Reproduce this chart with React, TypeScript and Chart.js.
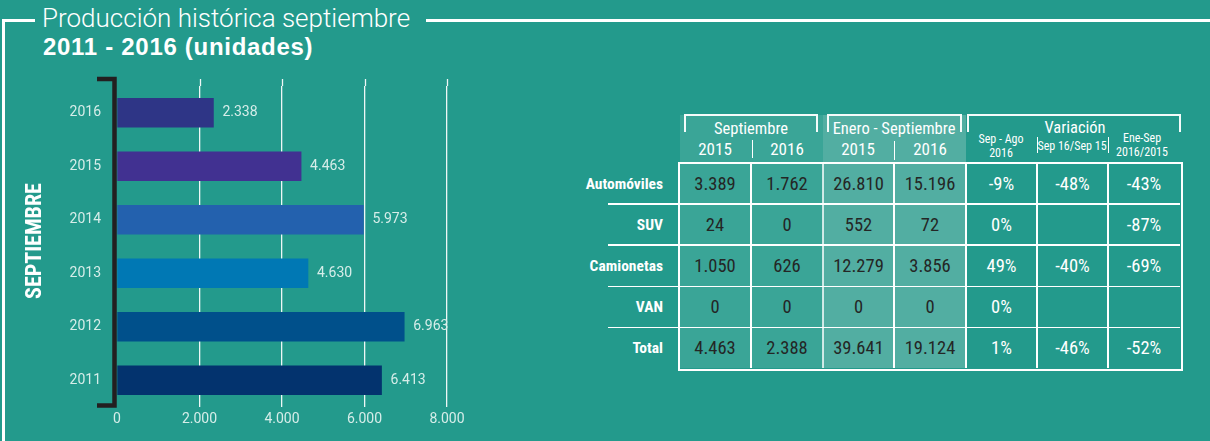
import React, { useEffect, useRef } from "react";
import { Chart, registerables } from "chart.js";

Chart.register(...registerables);

// ---------- data ----------
const years = ["2016", "2015", "2014", "2013", "2012", "2011"];
const production = [2338, 4463, 5973, 4630, 6963, 6413];
const barColors = ["#2e3586", "#413191", "#2361ae", "#0078b4", "#00508b", "#03336e"];
const xMax = 8000;
const xStep = 2000;

const rowLabels = ["Automóviles", "SUV", "Camionetas", "VAN", "Total"];
const sep2015 = ["3.389", "24", "1.050", "0", "4.463"];
const sep2016 = ["1.762", "0", "626", "0", "2.388"];
const ene2015 = ["26.810", "552", "12.279", "0", "39.641"];
const ene2016 = ["15.196", "72", "3.856", "0", "19.124"];
const varSepAgo = ["-9%", "0%", "49%", "0%", "1%"];
const varSep = ["-48%", "", "-40%", "", "-46%"];
const varEne = ["-43%", "-87%", "-69%", "", "-52%"];

// ---------- style ----------
const BG = "#239a8c";
const NARROW = '"Liberation Sans Narrow", "Roboto Condensed", "Arial Narrow", "Roboto", sans-serif';
const SANS = '"Roboto", "Liberation Sans", sans-serif';
const LIGHT_TXT = "#d6ede9";

const fmt = (n: number) => String(n).replace(/\B(?=(\d{3})+(?!\d))/g, ".");

const colX = [679, 751, 823, 894, 966, 1037, 1108, 1180];
const rowY = [163, 204, 245, 286.5, 327.5, 368];

function BarChart() {
  const ref = useRef<HTMLCanvasElement | null>(null);
  useEffect(() => {
    if (!ref.current) return;
    const extras = {
      id: "extras",
      beforeDatasetsDraw(chart: any) {
        const { ctx, chartArea } = chart;
        const xs = chart.scales.x;
        ctx.save();
        ctx.strokeStyle = "rgba(255,255,255,0.92)";
        ctx.lineWidth = 1.3;
        xs.ticks.forEach((t: any) => {
          if (t.value === 0) return;
          const px = Math.round(xs.getPixelForValue(t.value)) + 0.5;
          ctx.beginPath();
          ctx.moveTo(px, chartArea.top - 7);
          ctx.lineTo(px, chartArea.top);
          ctx.stroke();
        });
        ctx.restore();
      },
      afterDatasetsDraw(chart: any) {
        const { ctx, chartArea } = chart;
        const meta = chart.getDatasetMeta(0);
        ctx.save();
        ctx.fillStyle = LIGHT_TXT;
        ctx.font = `14px ${SANS}`;
        ctx.textBaseline = "middle";
        ctx.textAlign = "left";
        meta.data.forEach((bar: any, i: number) => {
          ctx.fillText(fmt(production[i]), bar.x + 9, bar.y);
        });
        // bracket axis
        const x = chartArea.left - 2.5;
        ctx.strokeStyle = "#231f20";
        ctx.lineWidth = 4.5;
        ctx.lineJoin = "miter";
        ctx.beginPath();
        ctx.moveTo(x - 17.5, chartArea.top - 7);
        ctx.lineTo(x, chartArea.top - 7);
        ctx.lineTo(x, chartArea.bottom - 1.5);
        ctx.lineTo(x - 17.5, chartArea.bottom - 1.5);
        ctx.stroke();
        ctx.restore();
      },
    };
    const chart = new Chart(ref.current, {
      type: "bar",
      data: {
        labels: years,
        datasets: [
          {
            data: production,
            backgroundColor: barColors,
            borderWidth: 0,
            barThickness: 29,
          },
        ],
      },
      options: {
        indexAxis: "y",
        responsive: false,
        animation: false,
        layout: { padding: { left: 0, top: 86, right: 33, bottom: 0 } },
        plugins: { legend: { display: false }, tooltip: { enabled: false } },
        scales: {
          x: {
            type: "linear",
            min: 0,
            max: xMax,
            ticks: {
              stepSize: xStep,
              color: LIGHT_TXT,
              font: { family: SANS, size: 14 },
              padding: 4,
              callback: (v: any) => fmt(Number(v)),
            },
            grid: {
              color: (c: any) => (c.tick && c.tick.value === 0 ? "rgba(0,0,0,0)" : "rgba(255,255,255,0.92)"),
              lineWidth: 1.3,
              drawTicks: false,
            },
            border: { display: false },
            afterFit: (s: any) => {
              s.height = 34;
            },
          },
          y: {
            ticks: {
              color: LIGHT_TXT,
              font: { family: SANS, size: 14 },
              padding: 16,
            },
            grid: { display: false, drawTicks: false },
            border: { display: false },
            afterFit: (s: any) => {
              s.width = 117;
            },
          },
        },
      },
      plugins: [extras],
    } as any);
    return () => chart.destroy();
  }, []);
  return (
    <canvas
      ref={ref}
      width={480}
      height={441}
      style={{ position: "absolute", left: 0, top: 0, width: 480, height: 441 }}
    />
  );
}

const abs = (s: React.CSSProperties): React.CSSProperties => ({ position: "absolute", ...s });

function Table() {
  const els: React.ReactNode[] = [];
  const cols = [sep2015, sep2016, ene2015, ene2016, varSepAgo, varSep, varEne];
  const cellBg = ["#3aa597", "#3aa597", "#52aea2", "#52aea2", "transparent", "transparent", "transparent"];
  // header backgrounds
  els.push(<div key="hb1" style={abs({ left: 680, top: 115, width: 143, height: 48, background: "#3aa597" })} />);
  els.push(<div key="hb2" style={abs({ left: 823, top: 115, width: 143, height: 48, background: "#52aea2" })} />);
  // cells
  cols.forEach((col, c) => {
    col.forEach((v, r) => {
      els.push(
        <div
          key={`c${c}-${r}`}
          style={abs({
            left: colX[c],
            top: rowY[r],
            width: colX[c + 1] - colX[c],
            height: rowY[r + 1] - rowY[r],
            background: cellBg[c],
            display: "flex",
            alignItems: "center",
            justifyContent: "center",
            color: c < 4 ? "#242625" : "#ffffff",
            fontFamily: NARROW,
            fontSize: 18.5,
          })}
        >
          {v}
        </div>
      );
    });
  });
  // row labels
  rowLabels.forEach((l, r) => {
    els.push(
      <div
        key={`rl${r}`}
        style={abs({
          left: 560,
          width: 103,
          top: rowY[r],
          height: rowY[r + 1] - rowY[r],
          display: "flex",
          alignItems: "center",
          justifyContent: "flex-end",
          color: "#fff",
          fontFamily: NARROW,
          fontWeight: 700,
          fontSize: 15.5,
        })}
      >
        {l}
      </div>
    );
  });
  // horizontal lines
  for (let r = 1; r < rowY.length - 1; r++) {
    els.push(<div key={`hl${r}`} style={abs({ left: 608, top: rowY[r] - 0.75, width: 1180 - 608, height: 1.5, background: "#fff" })} />);
  }
  // vertical lines
  for (let c = 1; c < colX.length - 1; c++) {
    els.push(
      <div
        key={`vl${c}`}
        style={abs({
          left: colX[c] - 0.75,
          top: rowY[0],
          width: 1.5,
          height: rowY[rowY.length - 1] - rowY[0],
          background: c === 2 ? "rgba(255,255,255,0.75)" : "#fff",
        })}
      />
    );
  }
  // outer border
  els.push(
    <div
      key="ob"
      style={abs({
        left: colX[0] - 1,
        top: rowY[0] - 1,
        width: colX[7] - colX[0],
        height: rowY[5] - rowY[0],
        border: "2px solid #fff",
      })}
    />
  );
  // brackets
  const bracket = (key: string, left: number, right: number) => (
    <div
      key={key}
      style={abs({
        left,
        top: 114,
        width: right - left,
        height: 18,
        borderTop: "2px solid #f4fbfa",
        borderLeft: "2px solid #f4fbfa",
        borderRight: "2px solid #f4fbfa",
        boxSizing: "border-box",
      })}
    />
  );
  els.push(bracket("b1", 684, 818));
  els.push(bracket("b2", 827, 962));
  els.push(bracket("b3", 967, 1181));
  const text = (key: string, cx: number, cy: number, t: string, size: number, w = 160) => (
    <div
      key={key}
      style={abs({
        left: cx - w / 2,
        width: w,
        top: cy - 10,
        height: 20,
        lineHeight: "20px",
        textAlign: "center",
        color: "#fff",
        fontFamily: NARROW,
        fontSize: size,
        whiteSpace: "nowrap",
      })}
    >
      {t}
    </div>
  );
  els.push(text("h1", 751, 129, "Septiembre", 16.5));
  els.push(text("h2", 894, 129, "Enero - Septiembre", 16.5));
  els.push(text("h3", 715, 149, "2015", 17, 60));
  els.push(text("h4", 787, 149, "2016", 17, 60));
  els.push(text("h5", 858, 149, "2015", 17, 60));
  els.push(text("h6", 930, 149, "2016", 17, 60));
  els.push(text("h7", 1075, 128, "Variación", 16.5));
  els.push(text("h8", 1001, 139, "Sep - Ago", 12, 70));
  els.push(text("h9", 1001, 153, "2016", 12, 70));
  els.push(text("h10", 1072, 146, "Sep 16/Sep 15", 12, 70));
  els.push(text("h11", 1142, 138, "Ene-Sep", 12, 70));
  els.push(text("h12", 1142, 152, "2016/2015", 12, 70));
  // small separators
  els.push(<div key="s1" style={abs({ left: 751.5, top: 140, width: 1.5, height: 18, background: "#fff" })} />);
  els.push(<div key="s2" style={abs({ left: 893.5, top: 141, width: 1.5, height: 19, background: "#fff" })} />);
  els.push(<div key="s3" style={abs({ left: 1036.5, top: 137, width: 1.5, height: 16, background: "#fff" })} />);
  els.push(<div key="s4" style={abs({ left: 1107.5, top: 137, width: 1.5, height: 16, background: "#fff" })} />);
  return <>{els}</>;
}

export default function App() {
  return (
    <div
      style={{
        position: "absolute",
        left: 0,
        top: 0,
        width: 1210,
        height: 441,
        background: BG,
        overflow: "hidden",
      }}
    >
      {/* frame */}
      <div style={abs({ left: 2, top: 19, width: 3, height: 430, background: "#fff" })} />
      <div style={abs({ left: 2, top: 19, width: 33, height: 3, background: "#fff" })} />
      <div style={abs({ left: 426, top: 19, width: 800, height: 3, background: "#fff" })} />
      {/* titles */}
      <div
        style={abs({
          left: 42,
          top: 3,
          fontFamily: SANS,
          fontWeight: 300,
          fontSize: 26,
          lineHeight: "30px",
          color: "#fff",
          whiteSpace: "nowrap",
        })}
      >
        Producción histórica septiembre
      </div>
      <div
        style={abs({
          left: 43,
          top: 33,
          fontFamily: '"Liberation Sans", Arial, sans-serif',
          fontWeight: 700,
          fontSize: 24,
          letterSpacing: 0.7,
          lineHeight: "28px",
          color: "#fff",
          whiteSpace: "nowrap",
        })}
      >
        2011 - 2016 (unidades)
      </div>
      <BarChart />
      <div
        style={abs({
          left: 34 - 80,
          top: 241 - 13,
          width: 160,
          height: 26,
          lineHeight: "26px",
          textAlign: "center",
          transform: "rotate(-90deg)",
          color: "#fff",
          fontFamily: NARROW,
          fontWeight: 700,
          fontSize: 22,
          whiteSpace: "nowrap",
        })}
      >
        SEPTIEMBRE
      </div>
      <Table />
    </div>
  );
}
